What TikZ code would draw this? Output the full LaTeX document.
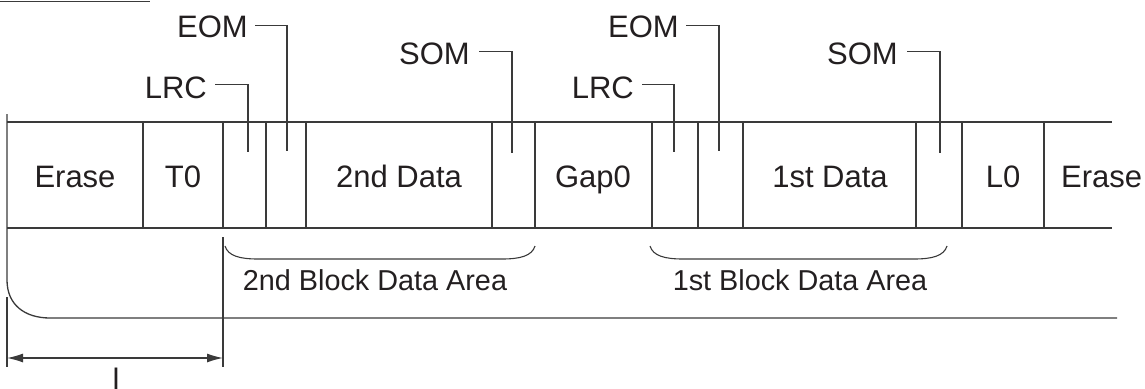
\documentclass[tikz,border=0pt]{standalone}
\usepackage{fontspec}
\setmainfont{Liberation Sans}
\usetikzlibrary{arrows.meta}
\definecolor{ln}{HTML}{3A3A3A}
\definecolor{tx}{HTML}{231F20}
\begin{document}
\begin{tikzpicture}[x=1pt,y=-1pt,
  line/.style={draw=ln,line width=1.3pt},
  lbl/.style={inner sep=0pt,text=tx,font=\fontsize{31}{36}\selectfont},
  arealbl/.style={lbl,font=\fontsize{28.8}{34}\selectfont},
  dimarrow/.style={line,{Latex[length=16pt,width=9pt]}-{Latex[length=16pt,width=9pt]}}]
\useasboundingbox (0,0) rectangle (1145,388);
% short line at top
\coordinate (tl0) at (0,1.5);
\coordinate (tl1) at (150,1.5);
\draw[line] (tl0) -- (tl1);
% tape outline
\draw[line] (7,114) -- (7,280) .. controls (7,305) and (25,318) .. (50,318) -- (1117,318);
\draw[line] (7,122) -- (1112,122);
\draw[line] (7,228) -- (1112,228);
\foreach \x in {143,223,266,306,492,535,652,698,743,916,962,1044}
  \draw[line] (\x,122) -- (\x,228);
% cell texts
\node[lbl,anchor=base] (erA) at (75,187) {Erase};
\node[lbl,anchor=base] (t0) at (183,187) {T0};
\node[lbl,anchor=base] (d2) at (399,187) {2nd Data};
\node[lbl,anchor=base] (gap) at (593,187) {Gap0};
\node[lbl,anchor=base] (d1) at (830,187) {1st Data};
\node[lbl,anchor=base] (l0) at (1003,187) {L0};
\node[lbl,anchor=base west] (erB) at (1061,187) {Erase};
% leader labels
\node[lbl,anchor=base east] (lrcA) at (207,98) {LRC};
\node[lbl,anchor=base east] (eomA) at (248,37) {EOM};
\node[lbl,anchor=base east] (somA) at (470,64) {SOM};
\node[lbl,anchor=base east] (lrcB) at (634,98) {LRC};
\node[lbl,anchor=base east] (eomB) at (679,37) {EOM};
\node[lbl,anchor=base east] (somB) at (898,64) {SOM};
\coordinate (lrcAt) at (248,152);
\coordinate (eomAt) at (287,151);
\coordinate (somAt) at (512,153);
\coordinate (lrcBt) at (674,152);
\coordinate (eomBt) at (719,151);
\coordinate (somBt) at (940,153);
\draw[line] ([xshift=8pt,yshift=3pt]lrcA.east) -| (lrcAt);
\draw[line] ([xshift=7pt,yshift=1pt]eomA.east) -| (eomAt);
\draw[line] ([xshift=9pt,yshift=2pt]somA.east) -| (somAt);
\draw[line] ([xshift=8pt,yshift=3pt]lrcB.east) -| (lrcBt);
\draw[line] ([xshift=7pt,yshift=1pt]eomB.east) -| (eomBt);
\draw[line] ([xshift=9pt,yshift=2pt]somB.east) -| (somBt);
% braces
\draw[line,line width=1.1pt] (225,246) .. controls (228,256) and (240,259) .. (258,259) -- (502,259) .. controls (520,259) and (532,256) .. (535,246);
\draw[line,line width=1.1pt] (650,246) .. controls (653,256) and (665,259) .. (683,259) -- (914,259) .. controls (932,259) and (944,256) .. (947,246);
\node[arealbl,anchor=base] (b2) at (375,290) {2nd Block Data Area};
\node[arealbl,anchor=base] (b1) at (800,290) {1st Block Data Area};
% dimension
\coordinate (dA0) at (7,297);
\coordinate (dA1) at (7,367);
\coordinate (dB0) at (223,237);
\coordinate (dB1) at (223,367);
\draw[line] (dA0) -- (dA1);
\draw[line] (dB0) -- (dB1);
\coordinate (arA) at (7,358);
\coordinate (arB) at (223,358);
\draw[dimarrow] (arA) -- (arB);
\node[lbl,anchor=base] (dl) at (116,390) {l};
\end{tikzpicture}
\end{document}
